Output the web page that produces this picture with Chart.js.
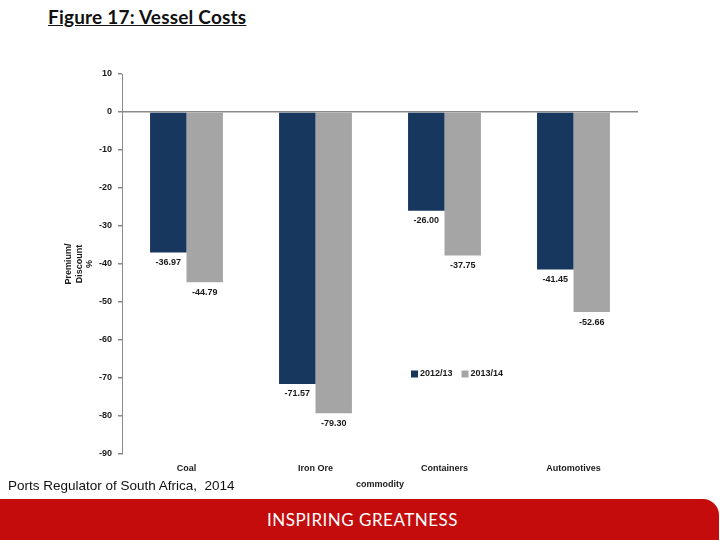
<!DOCTYPE html>
<html>
<head>
<meta charset="utf-8">
<script src="https://cdn.jsdelivr.net/npm/chart.js@4/dist/chart.umd.min.js"></script>
<style>
  body { margin: 0; width: 720px; height: 540px; position: relative; overflow: hidden; background: #fff; }
  #title { position: absolute; left: 48px; top: 5px; font: bold 19px Lato, sans-serif; text-decoration: underline; color: #111; letter-spacing: 0.2px; }
  #wrap { position: absolute; left: 0; top: 0; width: 720px; height: 500px; }
  #source { position: absolute; left: 8px; top: 478px; font: 13.5px "Liberation Sans", Arial, sans-serif; color: #111; }
  #footer { position: absolute; left: 0; top: 499px; width: 719px; height: 41px; background: #c40c0c; border-top-right-radius: 16px;
            color: #fff; font: 17px Lato, sans-serif; text-align: center; line-height: 42px; letter-spacing: 0.5px; }
</style>
</head>
<body>
<div id="title">Figure 17: Vessel Costs</div>
<div id="wrap"><canvas id="vesselChart"></canvas></div>
<div id="source">Ports Regulator of South Africa,&nbsp; 2014</div>
<div id="footer"><span style="position:relative;left:3px">INSPIRING GREATNESS</span></div>
<script>
// Datos del gráfico
const commodities = ['Coal', 'Iron Ore', 'Containers', 'Automotives'];
const costs2012 = [-36.97, -71.57, -26.00, -41.45];
const costs2013 = [-44.79, -79.30, -37.75, -52.66];
const seriesNames = ['2012/13', '2013/14'];

const labelFont = 'bold 9px "Liberation Sans", Arial, sans-serif';

// Etiquetas de valor debajo de cada barra
const valueLabels = {
    id: 'valueLabels',
    afterDatasetsDraw(chart) {
        const ctx = chart.ctx;
        ctx.save();
        ctx.font = labelFont;
        ctx.fillStyle = '#1a1a1a';
        ctx.textAlign = 'center';
        ctx.textBaseline = 'middle';
        chart.data.datasets.forEach((ds, i) => {
            chart.getDatasetMeta(i).data.forEach((bar, j) => {
                ctx.fillText(ds.data[j].toFixed(2), bar.x, bar.y + 10);
            });
        });
        ctx.restore();
    }
};

// Leyenda dentro del área del gráfico
const insideLegend = {
    id: 'insideLegend',
    afterDraw(chart) {
        const ctx = chart.ctx;
        const area = chart.chartArea;
        let x = area.left + 289;
        const y = 374;
        ctx.save();
        ctx.font = labelFont;
        ctx.textBaseline = 'middle';
        chart.data.datasets.forEach(ds => {
            ctx.fillStyle = ds.backgroundColor;
            ctx.fillRect(x, y - 3.5, 7, 7);
            ctx.fillStyle = '#1a1a1a';
            ctx.fillText(ds.label, x + 9, y);
            x += 9 + ctx.measureText(ds.label).width + 9;
        });
        ctx.restore();
    }
};

const ctx = document.getElementById('vesselChart').getContext('2d');
new Chart(ctx, {
    type: 'bar',
    data: {
        labels: commodities,
        datasets: [
            { label: seriesNames[0], data: costs2012, backgroundColor: '#17375e' },
            { label: seriesNames[1], data: costs2013, backgroundColor: '#a5a5a5' }
        ]
    },
    options: {
        responsive: true,
        maintainAspectRatio: false,
        animation: false,
        layout: { padding: { top: 74, right: 82, bottom: 0, left: 0 } },
        plugins: { legend: { display: false }, tooltip: { enabled: false } },
        datasets: { bar: { categoryPercentage: 0.565, barPercentage: 1 } },
        scales: {
            x: {
                grid: { display: false },
                border: { display: false },
                ticks: { color: '#1a1a1a', font: { family: '"Liberation Sans", Arial, sans-serif', size: 9, weight: 'bold' }, padding: 1, maxRotation: 0 },
                title: { display: true, text: 'commodity', color: '#1a1a1a', font: { family: '"Liberation Sans", Arial, sans-serif', size: 9, weight: 'bold' }, padding: { top: 2, bottom: 10 } },
                afterFit(scale) { scale.height = 46; }
            },
            y: {
                min: -90,
                max: 10,
                ticks: { stepSize: 10, color: '#1a1a1a', font: { family: '"Liberation Sans", Arial, sans-serif', size: 9, weight: 'bold' }, padding: 6 },
                grid: {
                    color: c => (c.tick && c.tick.value === 0 ? '#8a8a8a' : 'transparent'),
                    tickColor: '#8a8a8a',
                    tickLength: 4,
                    lineWidth: 1.5
                },
                border: { color: '#8a8a8a', width: 1 },
                title: { display: true, text: ['Premium/', 'Discount', '%'], color: '#1a1a1a', font: { family: '"Liberation Sans", Arial, sans-serif', size: 9, weight: 'bold' }, padding: { top: 63, bottom: 0 } },
                afterFit(scale) { scale.width = 122; }
            }
        }
    },
    plugins: [valueLabels, insideLegend]
});
</script>
</body>
</html>
